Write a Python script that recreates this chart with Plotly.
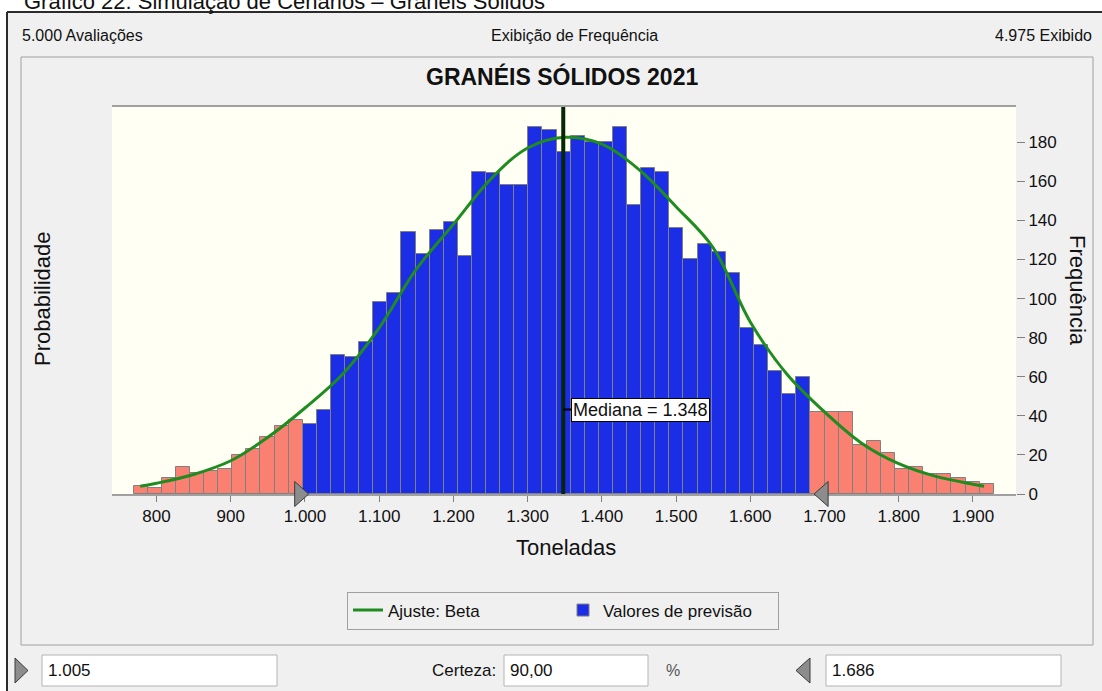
import numpy as np
import plotly.graph_objects as go

# values
trials = 5000
displayed = 4975
bin_start = 769.0
bin_width = 19.0
frequency = [4, 3, 8, 14, 11, 12, 13, 20, 23, 29, 35, 38,
             36, 43, 71, 70, 78, 98, 103, 134, 123, 135, 139, 122,
             165, 164, 158, 158, 188, 186, 175, 183, 180, 180, 188, 148,
             167, 165, 136, 120, 128, 124, 113, 85, 76, 63, 51, 60,
             42, 42, 42, 25, 27, 21, 13, 14, 10, 10, 8, 6, 5]
fit_x = [778, 800, 850, 900, 950, 1000, 1050, 1100, 1150, 1200, 1250, 1300,
         1350, 1400, 1450, 1500, 1550, 1600, 1650, 1700, 1750, 1800, 1850, 1900, 1915]
fit_y = [4, 5.5, 10, 17, 29, 44, 61, 85, 115, 138, 161, 177,
         182.5, 179, 166, 147, 126, 88, 61, 42, 26, 15.5, 9, 5, 4]
median = 1348
lower = 1005
upper = 1686
certainty = 90.0
x_ticks = list(range(800, 2000, 100))
freq_ticks = list(range(0, 200, 20))
prob_ticks = [0.0, 0.01, 0.02, 0.03]

# figure / plot area in pixels (window screenshot look)
W, H = 1102, 691
L, R, T, B = 112, 1016, 107, 494
FONT = "Liberation Sans, Arial, sans-serif"

def px(x):
    return (x - L) / (R - L)

def py(y):
    return (B - y) / (B - T)

def tri(points):
    return "M " + " L ".join(f"{px(a)},{py(b)}" for a, b in points) + " Z"

def br(n):
    # brazilian thousands separator
    return f"{n:,}".replace(",", ".")

freq = np.array(frequency)
centers = bin_start + bin_width * (np.arange(len(freq)) + 0.5)
inside = (centers + bin_width / 2 >= lower) & (centers <= upper)

fig = go.Figure()

fig.add_trace(go.Bar(x=centers[~inside], y=freq[~inside], width=bin_width,
                     marker=dict(color="#FA8072", line=dict(color="#808080", width=1)),
                     yaxis="y2", showlegend=False, hoverinfo="skip"))
fig.add_trace(go.Bar(x=centers[inside], y=freq[inside], width=bin_width,
                     marker=dict(color="#1B2EE6", line=dict(color="#808080", width=1)),
                     yaxis="y2", name="Valores de previsão", legendrank=2))
fig.add_trace(go.Scatter(x=fit_x, y=fit_y, mode="lines", yaxis="y2",
                         line=dict(color="#1E8C1E", width=3, shape="spline"),
                         name="Ajuste: Beta", legendrank=1))

grey = "#A0A0A0"
shapes = [
    # white strip above / left of the window
    dict(type="rect", xref="paper", yref="paper", x0=px(0), x1=px(W), y0=py(0), y1=py(12),
         fillcolor="white", line=dict(width=0), layer="below"),
    dict(type="rect", xref="paper", yref="paper", x0=px(0), x1=px(7), y0=py(12), y1=py(H),
         fillcolor="white", line=dict(width=0), layer="below"),
    dict(type="line", xref="paper", yref="paper", x0=px(7), x1=px(W), y0=py(12), y1=py(12),
         line=dict(color="#2B2B2B", width=2)),
    dict(type="line", xref="paper", yref="paper", x0=px(7), x1=px(7), y0=py(12), y1=py(H),
         line=dict(color="#2B2B2B", width=2)),
    # chart panel
    dict(type="rect", xref="paper", yref="paper", x0=px(21), x1=px(1093), y0=py(57), y1=py(645),
         line=dict(color=grey, width=1), layer="below"),
    # median line
    dict(type="line", xref="x", yref="paper", x0=median, x1=median, y0=0, y1=1,
         line=dict(color="#062606", width=4)),
    dict(type="line", xref="x", yref="paper", xsizemode="pixel", xanchor=median,
         x0=0, x1=9, y0=py(409.5), y1=py(409.5), line=dict(color="black", width=2)),
    # certainty grabbers on the axis
    dict(type="path", xref="x", yref="paper", xsizemode="pixel", ysizemode="pixel",
         xanchor=lower, yanchor=0, path="M -14,-12.5 L -14,12.5 L 0,0 Z",
         fillcolor="#8C8C8C", line=dict(color="#3A3A3A", width=1)),
    dict(type="path", xref="x", yref="paper", xsizemode="pixel", ysizemode="pixel",
         xanchor=upper, yanchor=0, path="M 14,-12.5 L 14,12.5 L 0,0 Z",
         fillcolor="#8C8C8C", line=dict(color="#3A3A3A", width=1)),
]
# input boxes and their grabbers in the bottom row
for x0, x1 in [(42, 277), (504, 648), (826, 1061)]:
    shapes.append(dict(type="rect", xref="paper", yref="paper", x0=px(x0), x1=px(x1),
                       y0=py(655), y1=py(686), fillcolor="white",
                       line=dict(color="#B4B4B4", width=1)))
shapes.append(dict(type="path", xref="paper", yref="paper",
                   path=tri([(15, 658), (15, 683), (28, 670.5)]),
                   fillcolor="#8C8C8C", line=dict(color="#3A3A3A", width=1)))
shapes.append(dict(type="path", xref="paper", yref="paper",
                   path=tri([(810, 658), (810, 683), (796, 670.5)]),
                   fillcolor="#8C8C8C", line=dict(color="#3A3A3A", width=1)))

def note(text, x, y, size=16, anchor="left", **kw):
    return dict(text=text, x=px(x), y=py(y), xref="paper", yref="paper",
                xanchor=anchor, yanchor="middle", showarrow=False,
                font=dict(size=size, family=kw.pop("family", FONT), color=kw.pop("color", "#111111")), **kw)

annotations = [
    note("Gráfico 22: Simulação de Cenários – Granéis Sólidos", 22, 1, size=22),
    note(f"{br(trials)} Avaliações", 20, 36),
    note("Exibição de Frequência", 574, 36, anchor="center"),
    note(f"{br(displayed)} Exibido", 1094, 36, anchor="right"),
    note("<b>GRANÉIS SÓLIDOS 2021</b>", 562, 76, size=23, anchor="center"),
    note("Probabilidade", 42, 299, size=22, anchor="center", textangle=-90),
    note("Frequência", 1078, 290, size=22, anchor="center", textangle=90),
    note("Toneladas", 566, 547, size=22, anchor="center"),
    note(br(lower), 46, 670.5, size=17),
    note("Certeza:", 498, 670.5, size=17, anchor="right"),
    note(f"{certainty:.2f}".replace(".", ","), 508, 670.5, size=17),
    note("%", 673, 670.5, size=16, anchor="center", color="#555555"),
    note(br(upper), 830, 670.5, size=17),
    dict(text=f"Mediana = {br(median)}", x=median, y=py(409.5), xref="x", yref="paper",
         xanchor="left", yanchor="middle", xshift=8, showarrow=False,
         bgcolor="white", bordercolor="black", borderwidth=1, borderpad=1,
         font=dict(size=18, family=FONT, color="#111111")),
]

fig.update_layout(
    width=W, height=H,
    margin=dict(l=L, r=W - R, t=T, b=H - B, pad=0),
    paper_bgcolor="#F0F0F0",
    plot_bgcolor="#FFFFF4",
    separators=",.",
    font=dict(family=FONT, size=17, color="#111111"),
    bargap=0,
    barmode="overlay",
    showlegend=True,
    legend=dict(orientation="h", x=px(563), y=py(610.5), xanchor="center", yanchor="middle",
                bgcolor="#F0F0F0", bordercolor=grey, borderwidth=1,
                font=dict(size=17), entrywidth=170, entrywidthmode="pixels"),
    xaxis=dict(range=[740, 1958], tickvals=x_ticks, separatethousands=True,
               ticks="outside", ticklen=6, tickcolor="#808080", tickwidth=1,
               showline=True, linecolor=grey, linewidth=1.5, mirror=True,
               showgrid=False, zeroline=False, tickfont=dict(size=17)),
    yaxis=dict(range=[0, 198 / trials], tickvals=prob_ticks, tickformat=".2f",
               ticks="outside", ticklen=9, tickcolor=grey, tickwidth=1.5,
               showline=True, linecolor=grey, linewidth=1.5, mirror=True,
               showgrid=True, gridcolor=grey, gridwidth=1.5, zeroline=False,
               tickfont=dict(size=17)),
    yaxis2=dict(range=[0, 198], tickvals=freq_ticks, overlaying="y", side="right",
                ticks="outside", ticklen=8, tickcolor="#808080", tickwidth=1,
                showline=False, showgrid=False, zeroline=False, tickfont=dict(size=17)),
    shapes=shapes,
    annotations=annotations,
)

fig.write_html("out.html", config={"displayModeBar": False},
               post_script="document.body.style.margin='0';")
